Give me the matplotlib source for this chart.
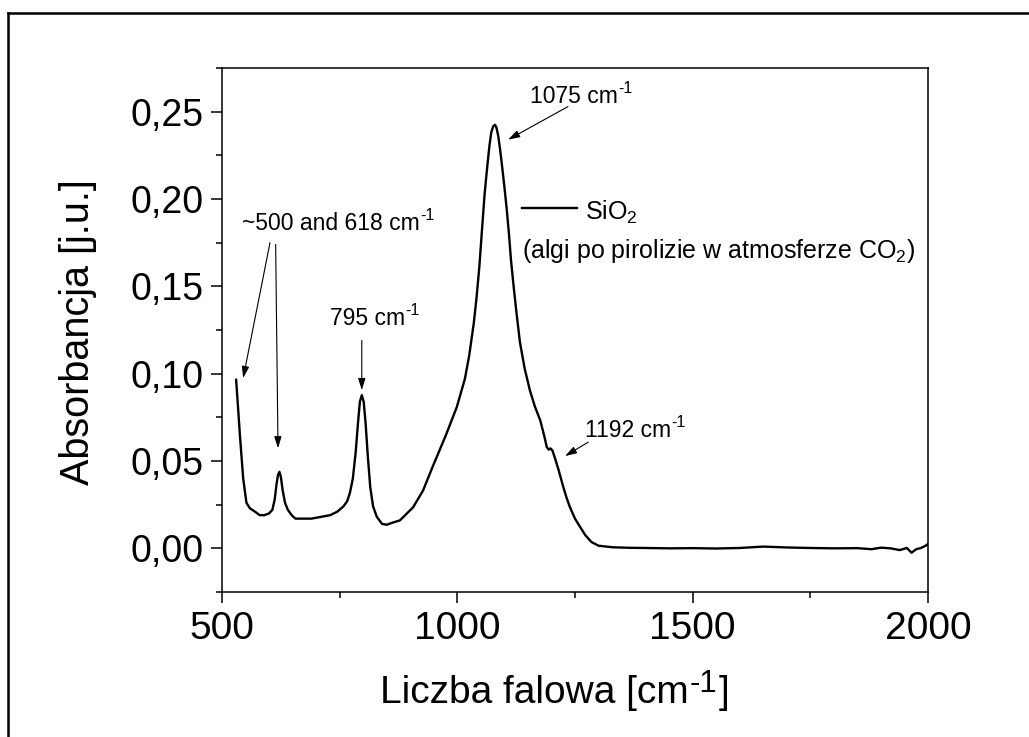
import matplotlib
matplotlib.use("Agg")
import matplotlib.pyplot as plt
from matplotlib.ticker import MultipleLocator, FuncFormatter
from matplotlib.lines import Line2D
from matplotlib.text import Annotation

plt.rcParams['font.family'] = ['Liberation Sans', 'DejaVu Sans']
plt.rcParams['mathtext.fontset'] = 'custom'
plt.rcParams['mathtext.rm'] = 'Liberation Sans'
plt.rcParams['mathtext.it'] = 'Liberation Sans'
plt.rcParams['mathtext.default'] = 'regular'

# ---- data ----
wavenumber = [530, 533, 538, 545, 552, 559, 570, 580, 590, 600, 607, 612, 616, 619,
              622, 625, 629, 634, 640, 648, 656, 670, 690, 710, 730, 745, 758, 766,
              772, 778, 784, 789, 793, 797, 801, 805, 810, 815, 821, 829, 840, 850,
              860, 878, 906, 927, 948, 976, 999, 1016, 1025, 1035, 1041, 1047, 1052,
              1058, 1063, 1068, 1072, 1076, 1080, 1083, 1087, 1091, 1095, 1100, 1105,
              1110, 1114, 1120, 1125, 1133, 1143, 1154, 1165, 1176, 1185, 1190, 1194,
              1198, 1202, 1207, 1215, 1225, 1232, 1239, 1250, 1261, 1272, 1285, 1300,
              1330, 1367, 1400, 1450, 1500, 1550, 1600, 1650, 1700, 1750, 1800, 1850,
              1880, 1900, 1920, 1940, 1955, 1965, 1975, 1985, 1995, 2000]
absorbance = [0.0965, 0.085, 0.065, 0.040, 0.026, 0.023, 0.021, 0.019, 0.019, 0.020,
              0.022, 0.028, 0.037, 0.042, 0.0438, 0.041, 0.033, 0.026, 0.022, 0.019,
              0.017, 0.017, 0.017, 0.018, 0.019, 0.021, 0.024, 0.027, 0.032, 0.040,
              0.055, 0.072, 0.084, 0.0877, 0.084, 0.072, 0.052, 0.035, 0.024, 0.018,
              0.014, 0.0135, 0.0145, 0.016, 0.0235, 0.033, 0.047, 0.065, 0.081, 0.097,
              0.110, 0.129, 0.144, 0.162, 0.181, 0.203, 0.217, 0.230, 0.238, 0.2415,
              0.2425, 0.241, 0.236, 0.228, 0.219, 0.207, 0.194, 0.179, 0.165, 0.149,
              0.1365, 0.118, 0.103, 0.0906, 0.081, 0.0734, 0.064, 0.058, 0.0565, 0.0572,
              0.056, 0.052, 0.045, 0.0352, 0.029, 0.0237, 0.017, 0.0122, 0.0075, 0.0036,
              0.0015, 0.0006, 0.0003, 0.0002, 0.0000, 0.0001, -0.0001, 0.0002, 0.0010,
              0.0005, 0.0002, 0.0000, 0.0001, -0.0005, 0.0004, 0.0000, -0.0010, 0.0002,
              -0.0025, -0.0005, 0.0002, 0.0015, 0.0025]

x_ticks = [500, 1000, 1500, 2000]
y_ticks = [0.00, 0.05, 0.10, 0.15, 0.20, 0.25]

W, H = 1029, 737
fig = plt.figure(figsize=(W / 100, H / 100), dpi=100)
ax = fig.add_axes([222 / W, 1 - 592 / H, (928 - 222) / W, (592 - 68) / H])

ax.plot(wavenumber, absorbance, color='black', lw=1.7, solid_joinstyle='round')

ax.set_xlim(500, 2000)
ax.set_ylim(-0.025, 0.275)
ax.set_xticks(x_ticks)
ax.set_yticks(y_ticks)
ax.xaxis.set_minor_locator(MultipleLocator(250))
ax.yaxis.set_minor_locator(MultipleLocator(0.025))
ax.yaxis.set_major_formatter(FuncFormatter(lambda v, p: f"{v:.2f}".replace('.', ',')))
ax.tick_params(which='major', direction='out', length=8, width=1.1, pad=5)
ax.tick_params(which='minor', direction='out', length=4.3, width=1.1)
ax.tick_params(axis='y', which='major', labelsize=27)
ax.tick_params(axis='x', which='major', labelsize=28, pad=6)
for s in ax.spines.values():
    s.set_linewidth(1.1)


def sup(main, text, fs, raise_frac=0.45, scale=0.7, dx=0.5):
    off = raise_frac * fs + 0.212 * fs * (1 - scale)
    return ax.annotate(text, xy=(1, 0), xycoords=main, xytext=(dx, off),
                       textcoords='offset points', fontsize=fs * scale,
                       va='bottom', ha='left')


def label_with_sup(x, y, main, fs):
    t = ax.text(x, y, main, fontsize=fs, va='baseline', ha='left')
    sup(t, '-1', fs)
    return t


# y label
fig.text(78 / W, 1 - 332 / H, 'Absorbancja [j.u.]', fontsize=28.5, rotation=90,
         ha='center', va='center')

# x label: "Liczba falowa [cm" + superscript "-1" + "]"
xl_fs = 28
xl = fig.text(380 / W, 1 - 703 / H, 'Liczba falowa [cm', fontsize=xl_fs,
              va='baseline', ha='left')
xl_raise = 0.30 * xl_fs
xs = fig.add_artist(Annotation(
    '-1', xy=(1, 0), xycoords=xl, xytext=(0.5, xl_raise),
    textcoords='offset points', fontsize=xl_fs * 0.8, va='bottom', ha='left'))
fig.add_artist(Annotation(
    ']', xy=(1, 0), xycoords=xs, xytext=(1.0, -xl_raise),
    textcoords='offset points', fontsize=xl_fs, va='bottom', ha='left'))

fs = 16.5
arrow = dict(arrowstyle='-|>,head_length=0.7,head_width=0.22', color='black', lw=0.8,
             shrinkA=0, shrinkB=0)

label_with_sup(1154, 0.2552, '1075 cm', fs)
ax.annotate('', xy=(1108, 0.234), xytext=(1235, 0.2529), arrowprops=arrow)

label_with_sup(542, 0.1823, '~500 and 618 cm', fs)
ax.annotate('', xy=(545, 0.0975), xytext=(602, 0.175), arrowprops=arrow)
ax.annotate('', xy=(619, 0.0573), xytext=(614, 0.174), arrowprops=arrow)

label_with_sup(729, 0.1279, '795 cm', fs)
ax.annotate('', xy=(797, 0.0906), xytext=(797, 0.119), arrowprops=arrow)

label_with_sup(1271, 0.0636, '1192 cm', fs)
ax.annotate('', xy=(1229, 0.0528), xytext=(1278, 0.0608), arrowprops=arrow)

lg_fs = 18
ax.plot([1137, 1254], [0.195, 0.195], color='black', lw=1.7)
ax.text(1271, 0.188, r'SiO$_2$', fontsize=lg_fs, va='baseline', ha='left')
ax.text(1137, 0.1663, r'(algi po pirolizie w atmosferze CO$_2$)', fontsize=lg_fs,
        va='baseline', ha='left')

# outer frame (top and left edges visible)
fig.add_artist(Line2D([8 / W, 1.02], [1 - 13 / H, 1 - 13 / H], color='black', lw=1.8,
                      transform=fig.transFigure))
fig.add_artist(Line2D([8 / W, 8 / W], [1 - 13 / H, -0.02], color='black', lw=1.8,
                      transform=fig.transFigure))

fig.savefig('out.png', dpi=100)
